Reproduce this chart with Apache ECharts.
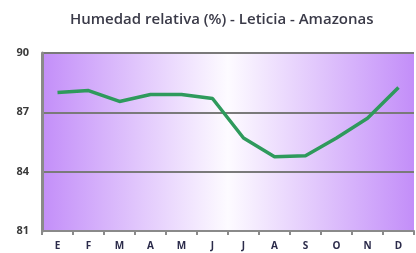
<!DOCTYPE html>
<html><head><meta charset="utf-8">
<script src="https://cdn.jsdelivr.net/npm/echarts@6/dist/echarts.min.js"></script>
<style>html,body{margin:0;padding:0;background:#fff}#c{width:416px;height:253px}</style>
</head><body><div id="c"></div>
<script>
const months = ['E','F','M','A','M','J','J','A','S','O','N','D'];
const humedad = [88.0, 88.1, 87.55, 87.9, 87.9, 87.7, 85.7, 84.75, 84.8, 85.7, 86.7, 88.25];
const yTicks = [81, 84, 87, 90];
const titleText = 'Humedad relativa (%) - Leticia - Amazonas';

const chart = echarts.init(document.getElementById('c'));
chart.setOption({
  animation: false,
  title: {
    text: titleText, left: 65, top: 7,
    textStyle: { fontFamily: 'Open Sans', fontSize: 15, fontWeight: 600, color: '#3a3a48' }
  },
  grid: {
    left: 42, right: 2, top: 53, bottom: 22, show: true, borderWidth: 0,
    backgroundColor: new echarts.graphic.LinearGradient(0, 0, 1, 0, [
      { offset: 0, color: '#c38ef9' },
      { offset: 0.5, color: '#fdfbff' },
      { offset: 1, color: '#c38ef9' }
    ])
  },
  xAxis: {
    type: 'category', data: months, boundaryGap: true,
    axisLine: { lineStyle: { color: '#8a8a8a', width: 2 } },
    axisTick: { show: true, length: 4, lineStyle: { color: '#8a8a8a', width: 2 } },
    axisLabel: { color: '#2b2b4a', fontFamily: 'Open Sans', fontSize: 10, fontWeight: 'bold', margin: 10 }
  },
  yAxis: {
    type: 'value', min: 81, max: 90, interval: 3,
    axisLine: { show: true, lineStyle: { color: '#8a8a8a', width: 3 } },
    axisTick: { show: false },
    splitLine: { lineStyle: { color: '#7a7a7a', width: 2 } },
    axisLabel: { color: '#3a3a3a', fontFamily: 'Open Sans', fontSize: 11, fontWeight: 'bold', margin: 13,
      formatter: v => yTicks.includes(v) ? String(v) : '' }
  },
  series: [{
    type: 'line', data: humedad, symbol: 'none',
    lineStyle: { color: '#2e9a5c', width: 3.5 }
  }]
});
</script></body></html>
